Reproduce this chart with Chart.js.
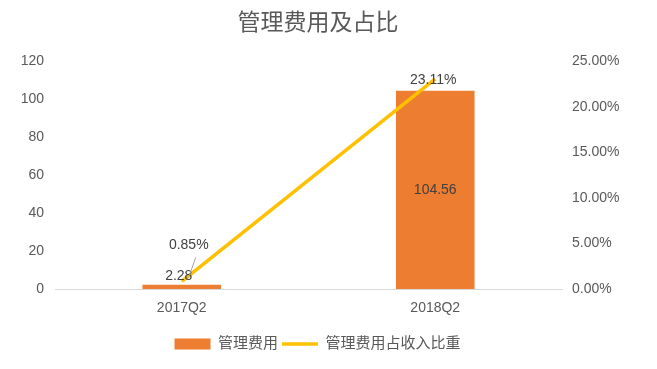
<!DOCTYPE html>
<html>
<head>
<meta charset="utf-8">
<script src="https://cdn.jsdelivr.net/npm/chart.js@4.4.6/dist/chart.umd.js"></script>
<style>
  html, body { margin: 0; padding: 0; background: #fff; }
  #wrap { width: 657px; height: 369px; }
</style>
</head>
<body>
<div id="wrap"><canvas id="myChart"></canvas></div>
<script>
const categories = ['2017Q2', '2018Q2'];
const expense = [2.28, 104.56];
const ratio = [0.85, 23.11];
const leftTicks = [0, 20, 40, 60, 80, 100, 120];
const rightTicks = [0, 5, 10, 15, 20, 25];

const FONT = '"Liberation Sans", "Noto Sans CJK SC", sans-serif';
const TEXT = '#595959';

// draws the value labels
const valueLabels = {
    id: 'valueLabels',
    afterLayout(chart) {
        // title and legend sit a little left of centre in the original
        chart.titleBlock.left -= 21;
        chart.legend.left -= 22;
    },
    afterDatasetsDraw(chart) {
        const ctx = chart.ctx;
        ctx.save();
        ctx.font = '14px ' + FONT;
        ctx.fillStyle = '#404040';
        ctx.textAlign = 'center';
        ctx.textBaseline = 'middle';
        const bars = chart.getDatasetMeta(0).data;
        const pts = chart.getDatasetMeta(1).data;
        // bar labels
        ctx.fillText(expense[0].toFixed(2), bars[0].x - 3, bars[0].y - 9);
        ctx.fillText(expense[1].toFixed(2), bars[1].x, (bars[1].y + bars[1].base) / 2);
        // leader line for first ratio label
        ctx.strokeStyle = '#A6A6A6';
        ctx.lineWidth = 1;
        ctx.beginPath();
        ctx.moveTo(pts[0].x + 14, pts[0].y - 24);
        ctx.lineTo(pts[0].x + 7, pts[0].y - 4);
        ctx.stroke();
        ctx.fillText(ratio[0].toFixed(2) + '%', pts[0].x + 7, pts[0].y - 36);
        ctx.fillText(ratio[1].toFixed(2) + '%', pts[1].x - 2, pts[1].y + 1);
        ctx.restore();
    }
};

const ctx = document.getElementById('myChart').getContext('2d');
new Chart(ctx, {
    data: {
        labels: categories,
        datasets: [{
            type: 'bar',
            label: '管理费用',
            data: expense,
            backgroundColor: '#ED7D31',
            yAxisID: 'y',
            categoryPercentage: 1,
            barPercentage: 0.31,
            order: 2
        }, {
            type: 'line',
            label: '管理费用占收入比重',
            data: ratio,
            borderColor: '#FFC000',
            backgroundColor: '#FFC000',
            borderWidth: 3.5,
            pointRadius: 0,
            yAxisID: 'y1',
            order: 1
        }]
    },
    options: {
        responsive: true,
        maintainAspectRatio: false,
        animation: false,
        layout: { padding: { top: 0, bottom: 7.5, left: 0, right: 0 } },
        plugins: {
            title: {
                display: true,
                text: '管理费用及占比',
                color: TEXT,
                font: { family: FONT, size: 23, weight: 'normal' },
                padding: { top: 10, bottom: 24 }
            },
            legend: {
                position: 'bottom',
                labels: {
                    color: TEXT,
                    font: { family: FONT, size: 15 },
                    usePointStyle: true,
                    pointStyleWidth: 36,
                    boxHeight: 11,
                    padding: 4,
                    generateLabels(chart) {
                        return [{
                            text: '管理费用', fillStyle: '#ED7D31', strokeStyle: '#ED7D31',
                            lineWidth: 0, pointStyle: 'rect', datasetIndex: 0, fontColor: TEXT
                        }, {
                            text: '管理费用占收入比重', fillStyle: '#FFC000', strokeStyle: '#FFC000',
                            lineWidth: 3.5, pointStyle: 'line', datasetIndex: 1, fontColor: TEXT
                        }];
                    }
                }
            },
            tooltip: { enabled: false }
        },
        scales: {
            x: {
                grid: { display: false, drawTicks: false },
                border: { display: true, color: '#D9D9D9', width: 1 },
                afterFit(scale) { scale.height = 43.5; },
                ticks: { color: TEXT, font: { family: FONT, size: 14 }, padding: 11 }
            },
            y: {
                position: 'left',
                min: 0, max: 120,
                afterBuildTicks(scale) { scale.ticks = leftTicks.map(v => ({ value: v })); },
                afterFit(scale) { scale.width = 55; },
                grid: { display: false, drawTicks: false },
                border: { display: false },
                ticks: { color: TEXT, font: { family: FONT, size: 14 }, padding: 11 }
            },
            y1: {
                position: 'right',
                min: 0, max: 25,
                afterBuildTicks(scale) { scale.ticks = rightTicks.map(v => ({ value: v })); },
                afterFit(scale) { scale.width = 95; },
                grid: { display: false, drawTicks: false },
                border: { display: false },
                ticks: {
                    color: TEXT, font: { family: FONT, size: 14 }, padding: 10,
                    callback: v => v.toFixed(2) + '%'
                }
            }
        }
    },
    plugins: [valueLabels]
});
</script>
</body>
</html>
